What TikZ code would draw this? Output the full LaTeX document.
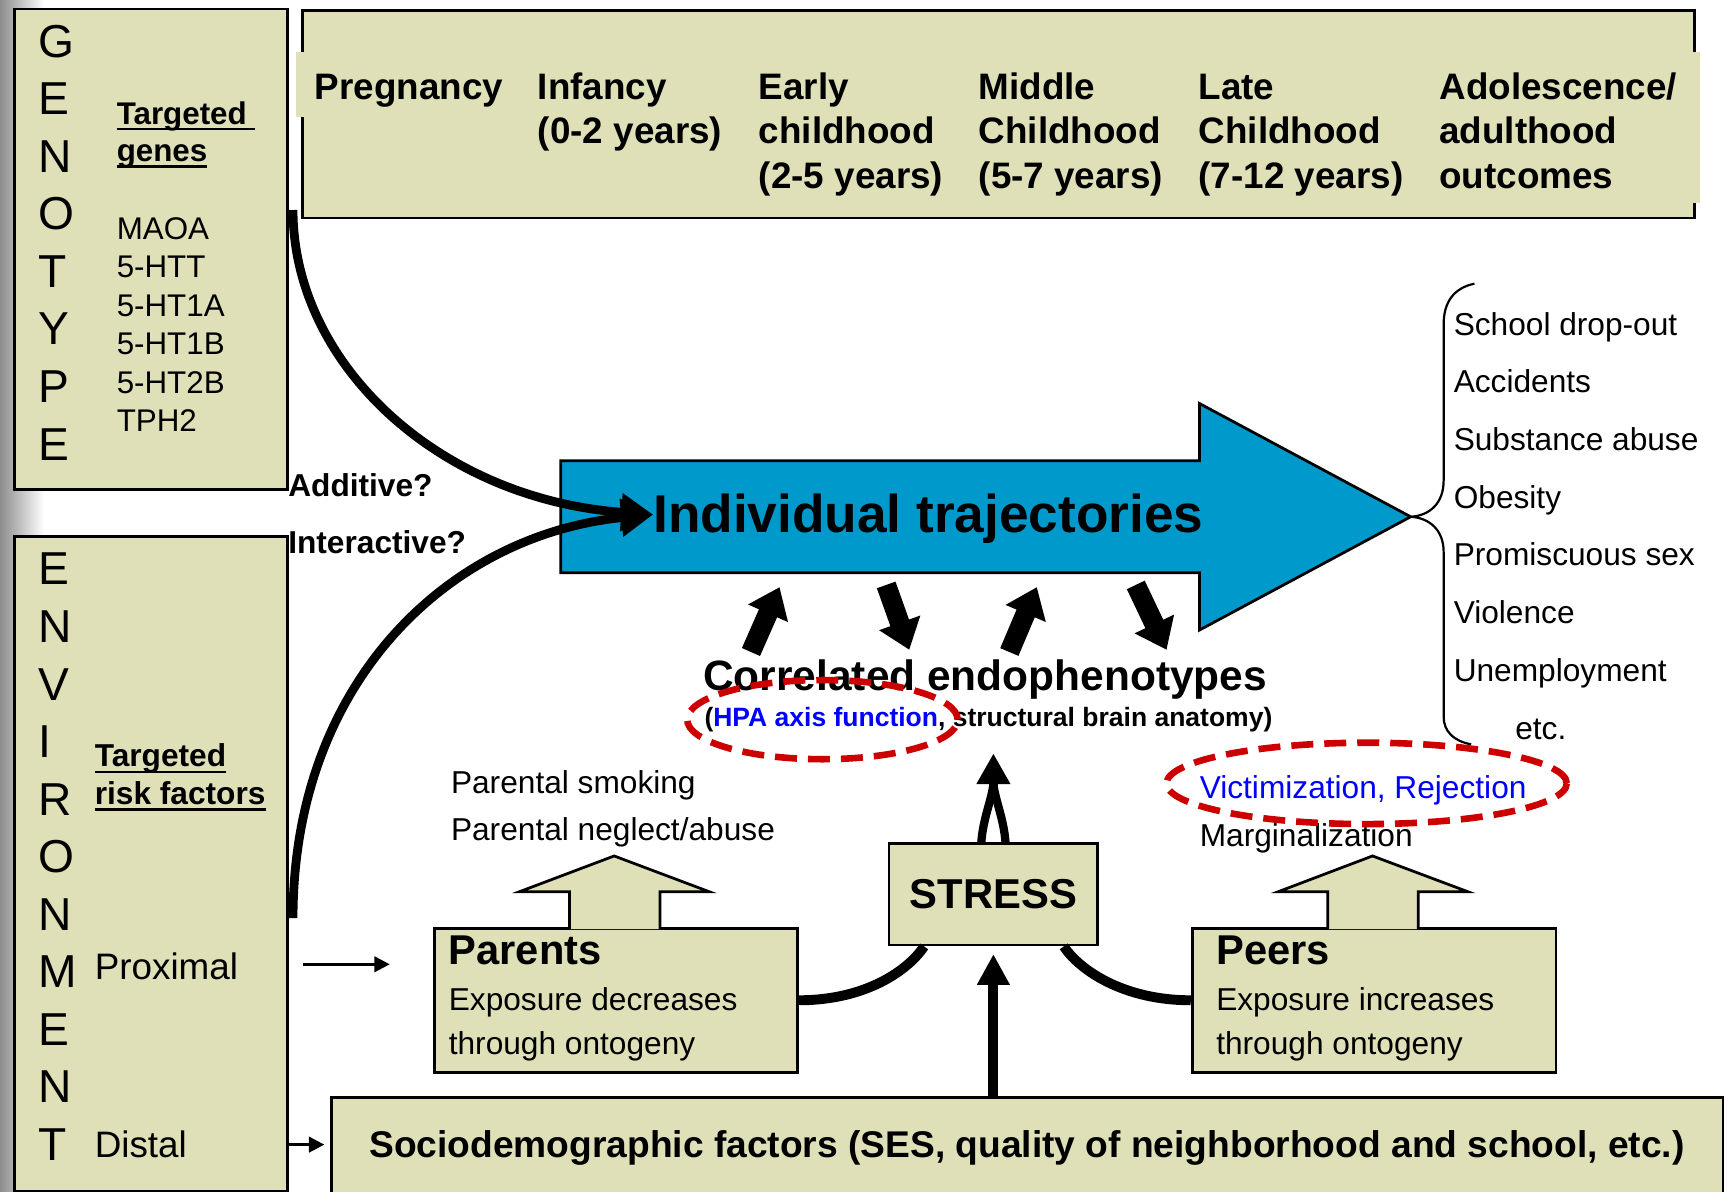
\documentclass[tikz,border=0pt]{standalone}
\usepackage{fontspec}
\setmainfont{Liberation Sans}
\usetikzlibrary{arrows.meta,calc}
\definecolor{khaki}{RGB}{223,224,184}
\definecolor{trajblue}{RGB}{0,153,204}
\definecolor{ringred}{RGB}{204,0,0}
\definecolor{hlblue}{RGB}{0,0,255}
\newcommand\fs[2]{\fontsize{#1}{#2}\selectfont}
\newcommand\stack[1]{\vtop{\halign{##\hfil\cr#1\crcr}}}
\newcommand\ul[1]{\setbox0=\hbox{#1}\rlap{\rule[-5.5pt]{\wd0}{2.2pt}}\box0}
\begin{document}
\begin{tikzpicture}[x=1pt,y=-1pt,
  panel/.style={draw=black,line width=2.5pt,fill=khaki,inner sep=0pt,anchor=north west},
  lbl/.style={inner sep=0pt,anchor=base west},
  ctr/.style={inner sep=0pt,anchor=base},
  body/.style={font=\fs{28.8}{35}},
  bigletters/.style={font=\fs{42}{52.35}},
  period/.style={font=\fs{33.5}{40.5}\bfseries},
  curveconn/.style={line width=8pt,-{Triangle[length=29pt,width=33pt]}},
  blockarrow/.style={line width=18pt,-{Triangle[length=26pt,width=38pt]}},
  thinarrow/.style={line width=2.5pt,-{Triangle[length=14pt,width=14pt]}},
  redring/.style={draw=ringred,line width=6pt,dash pattern=on 20pt off 10pt},
  heavy/.style={line width=9pt}
]
\useasboundingbox (0,0) rectangle (1568,1084);
\fill[white] (0,0) rectangle (1568,1084);
\shade[left color=black!45,right color=white] (0,0) rectangle (40,1084);

% ---- side panels ----
\node[panel,minimum width=248pt,minimum height=437pt] (geno) at (12,7) {};
\node[panel,minimum width=248pt,minimum height=595pt] (env) at (12,487) {};

\node[lbl,bigletters] (genoword) at (35,52)
  {\stack{G\cr E\cr N\cr O\cr T\cr Y\cr P\cr E}};
\node[lbl,font=\fs{28.5}{34}\bfseries] (genehead) at (106,113)
  {\stack{\ul{Targeted\ }\cr\ul{genes}}};
\node[lbl,font=\fs{28.5}{35}] (genelist) at (106,217.7)
  {\stack{MAOA\cr 5-HTT\cr 5-HT1A\cr 5-HT1B\cr 5-HT2B\cr TPH2}};

\node[lbl,bigletters] (envword) at (35,532)
  {\stack{E\cr N\cr V\cr I\cr R\cr O\cr N\cr M\cr E\cr N\cr T}};
\node[lbl,font=\fs{28.8}{34.5}\bfseries] (riskhead) at (86,697.5)
  {\stack{\ul{Targeted}\cr\ul{risk factors}}};
\node[lbl,font=\fs{33.5}{40}] (prox) at (86,891) {Proximal};
\node[lbl,font=\fs{33.5}{40}] (distal) at (86,1053) {Distal};

% ---- developmental periods ----
\node[panel,minimum width=1266pt,minimum height=189pt] (timeline) at (274,8) {};
\fill[khaki] (269,47) rectangle (277,106);
\fill[khaki] (1537,47) rectangle (1546,185);
\node[lbl,period] (preg) at (286,90.3) {\stack{Pregnancy}};
\node[lbl,period] (inf) at (489,90.3) {\stack{Infancy\cr (0-2 years)}};
\node[lbl,period] (early) at (690,90.3) {\stack{Early\cr childhood\cr (2-5 years)}};
\node[lbl,period] (middle) at (890,90.3) {\stack{Middle\cr Childhood\cr (5-7 years)}};
\node[lbl,period] (late) at (1090,90.3) {\stack{Late\cr Childhood\cr (7-12 years)}};
\node[lbl,period] (adol) at (1309,90.3) {\stack{Adolescence/\cr adulthood\cr outcomes}};

% ---- trajectory arrow ----
\filldraw[fill=trajblue,draw=black,line width=2.5pt,line join=miter]
  (510,419) -- (1091,419) -- (1091,367) -- (1283,470) -- (1091,573)
  -- (1091,521) -- (510,521) -- cycle;
\coordinate (tip) at (1283,470);
\node[lbl,font=\fs{48.4}{56}\bfseries] (traj) at (594,484.5) {Individual trajectories};
\coordinate (join) at (594,468);

\draw[curveconn] ($(geno.north east)+(4,184)$) .. controls +(0,140) and +(-195,-14) .. (join);
\draw[curveconn] ($(env.north east)+(4,348)$) .. controls +(0,-215) and +(-185,18) .. (join);
\node[lbl,font=\fs{28.8}{34}\bfseries] (additive) at (262,451.7) {Additive?};
\node[lbl,font=\fs{28.8}{34}\bfseries] (interactive) at (262,503) {Interactive?};

% ---- outcomes ----
\draw[line width=2pt] (1341,258) .. controls (1322,262) and (1313,275) .. (1313,295)
  -- (1313,437) .. controls (1313,458) and (1300,469) .. (tip)
  .. controls (1300,471) and (1313,482) .. (1313,502)
  -- (1313,652) .. controls (1313,665) and (1322,674) .. (1338,677);
\node[lbl,font=\fs{28.8}{52.5}] (outcomes) at (1322,304.7)
  {\stack{School drop-out\cr Accidents\cr Substance abuse\cr Obesity\cr
   Promiscuous sex\cr Violence\cr Unemployment}};
\node[lbl,body] (etc) at (1378,672.2) {etc.};

% ---- endophenotypes ----
\node[ctr,font=\fs{38.6}{44}\bfseries] (endo) at (896,628) {Correlated endophenotypes};
\node[ctr,font=\fs{24.1}{28}\bfseries] (endosub) at (899,661)
  {(\textcolor{hlblue}{HPA axis function}, structural brain anatomy)};

\coordinate (a1s) at (683,593); \coordinate (a1e) at (709,534);
\coordinate (a2s) at (806,532); \coordinate (a2e) at (827,591);
\coordinate (a3s) at (918,593); \coordinate (a3e) at (943,534);
\coordinate (a4s) at (1033,532); \coordinate (a4e) at (1061,591);
\draw[blockarrow] (a1s) -- (a1e);
\draw[blockarrow] (a2s) -- (a2e);
\draw[blockarrow] (a3s) -- (a3e);
\draw[blockarrow] (a4s) -- (a4e);

% ---- parents / peers ----
\node[lbl,body] (psmoke) at (410,721.5) {Parental smoking};
\node[lbl,body] (pneglect) at (410,764.6) {Parental neglect/abuse};
\node[lbl,body] (victim) at (1091,726) {\textcolor{hlblue}{Victimization, Rejection}};
\node[lbl,body] (margin) at (1091,770) {Marginalization};

\node[panel,minimum width=330pt,minimum height=131pt] (parentsbox) at (394,843) {};
\filldraw[fill=khaki,draw=black,line width=2.5pt,line join=miter]
  (518,845) -- (518,811) -- (472.5,811) -- (558.6,778.5) -- (645,811) -- (600.3,811) -- (600.3,845);
\node[lbl,font=\fs{37.9}{44}\bfseries] (parentstitle) at (408,876.8) {Parents};
\node[lbl,font=\fs{28.8}{40}] (parentstext) at (408,919.5)
  {\stack{Exposure decreases\cr through ontogeny}};

\node[panel,minimum width=331pt,minimum height=131pt] (peersbox) at (1083,843) {};
\filldraw[fill=khaki,draw=black,line width=2.5pt,line join=miter]
  (1207.6,845) -- (1207.6,811) -- (1162.6,811) -- (1248.3,778.5) -- (1335,811) -- (1290,811) -- (1290,845);
\node[lbl,font=\fs{37.9}{44}\bfseries] (peerstitle) at (1106,876.8) {Peers};
\node[lbl,font=\fs{28.8}{40}] (peerstext) at (1106,919.5)
  {\stack{Exposure increases\cr through ontogeny}};

% ---- stress ----
\node[draw=black,line width=2.5pt,fill=khaki,inner sep=0pt,minimum width=190pt,
  minimum height=92pt,font=\fs{38}{44}\bfseries] (stress) at (903.5,813.5) {STRESS};

\node[panel,minimum width=1266pt,minimum height=100pt] (socio) at (300,997) {};
\node[ctr,font=\fs{33.8}{40}\bfseries] (sociotext) at (934,1053)
  {Sociodemographic factors (SES, quality of neighborhood and school, etc.)};

\draw[heavy] (parentsbox.east) .. controls +(62,0) and +(-14,21) .. ($(stress.south)+(-63,0)$);
\draw[heavy] (peersbox.west) .. controls +(-62,0) and +(14,21) .. ($(stress.south)+(64,0)$);
\draw[heavy,-{Triangle[length=28pt,width=28pt]}] (socio.north -| stress.south) -- ($(stress.south)+(0,7)$);

\coordinate (fork) at ($(stress.north)+(0,-54)$);
\draw[line width=7.5pt] ($(stress.north)+(-11,0)$) .. controls +(1.5,-22) and +(-1,14) .. (fork);
\draw[line width=7.5pt] ($(stress.north)+(11,0)$) .. controls +(-1.5,-22) and +(1,14) .. (fork);
\draw[line width=8pt,-{Triangle[length=28pt,width=29pt]}] ($(fork)+(0,4)$) -- ($(endosub.south -| stress.north)+(0,19)$);

\draw[thinarrow] ($(env.east |- prox.west)+(13,-2)$) -- ($(env.east |- prox.west)+(92,-2)$);
\draw[thinarrow] (env.east |- distal.west) -- ($(socio.west |- distal.west)+(-5,0)$);

% ---- highlighted items ----
\draw[redring] (748,654.5) ellipse [x radius=123pt,y radius=36pt];
\draw[redring] (1243,712.5) ellipse [x radius=182pt,y radius=37pt];
\end{tikzpicture}
\end{document}
